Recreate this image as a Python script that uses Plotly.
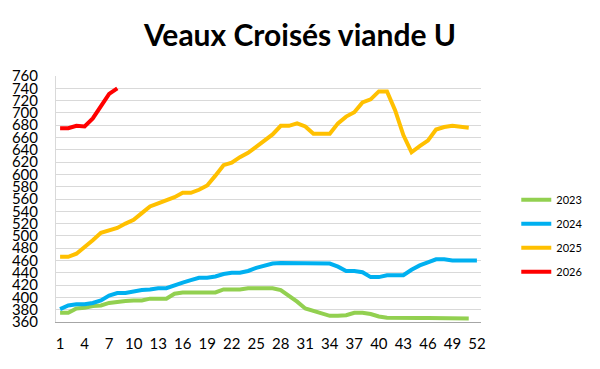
import plotly.graph_objects as go

weeks = list(range(1, 53))

s2023 = [375, 375, 382, 383, 386, 387, 391, 393, 394, 395, 395, 398, 398, 398, 406, 408, 408, 408, 408, 408,
         413, 413, 413, 415, 415, 415, 415, 412, 403, 393, 382, 378, 374, 370, 370, 371, 375, 375, 373, 369,
         367, 366.5, 366.5, 366.5, 366.5, 366.5, 366.5, 366.5, 365.5, 365.5, 365.5]
s2024 = [381, 387, 389, 389, 391, 395, 403, 407, 407, 410, 412, 413, 415, 415, 420, 424, 428, 432, 432, 434,
         438, 440, 440, 443, 448, 451, 455, 456, 456, 456, 456, 455, 455, 455, 450, 443, 443, 441, 433, 433,
         436, 436, 436, 445, 452, 457, 462, 462, 460, 460, 460, 460]
s2025 = [466, 466, 471, 481, 493, 505, 509, 513, 520, 526, 537, 548, 553, 558, 563, 570, 570, 575, 582, 598,
         615, 619, 628, 635, 645, 653, 665, 679, 679, 683, 678, 666, 666, 666, 683, 694, 701, 717, 722, 735,
         735, 704, 664, 636, 646, 655, 673, 677, 679, 677, 676]
s2026 = [675, 675, 679, 678, 691, 712, 731, 740]

series = [("2023", s2023, "#92D050"), ("2024", s2024, "#00B0F0"),
          ("2025", s2025, "#FFC000"), ("2026", s2026, "#FF0000")]

y_ticks = list(range(360, 761, 20))
x_ticks = list(range(1, 53, 3))

fig = go.Figure()
for name, vals, color in series:
    fig.add_trace(go.Scatter(
        x=weeks[:len(vals)], y=vals, mode="lines", name=name,
        line=dict(color=color, width=4), legendgroup=name))

fig.update_layout(
    width=600, height=369,
    margin=dict(l=56, r=113, t=76, b=47),
    paper_bgcolor="white", plot_bgcolor="white",
    font=dict(family="Lato, sans-serif", color="black"),
    title=dict(text="<b>Veaux Croisés viande U</b>", x=0.5, xanchor="center",
               y=0.905, yanchor="middle", font=dict(size=30, family="Lato")),
    showlegend=True,
    legend=dict(x=1.083, xanchor="left", y=0.556, yanchor="top",
                font=dict(size=11), tracegroupgap=5, bgcolor="rgba(0,0,0,0)"),
)
fig.update_xaxes(range=[0.5, 52.5], tickvals=x_ticks, showgrid=False,
                 showline=True, linecolor="#A6A6A6", linewidth=1,
                 tickfont=dict(size=15), ticks="", zeroline=False,
                 ticklabelstandoff=8)
fig.update_yaxes(range=[360, 760], tickvals=y_ticks, showgrid=True,
                 gridcolor="#D9D9D9", gridwidth=1,
                 showline=True, linecolor="#D9D9D9", linewidth=1,
                 tickfont=dict(size=15), ticks="", zeroline=False,
                 ticklabelstandoff=14)

fig.write_html("out.html", config={"displayModeBar": False},
               post_script="document.body.style.margin='0';document.body.style.overflow='hidden';")
